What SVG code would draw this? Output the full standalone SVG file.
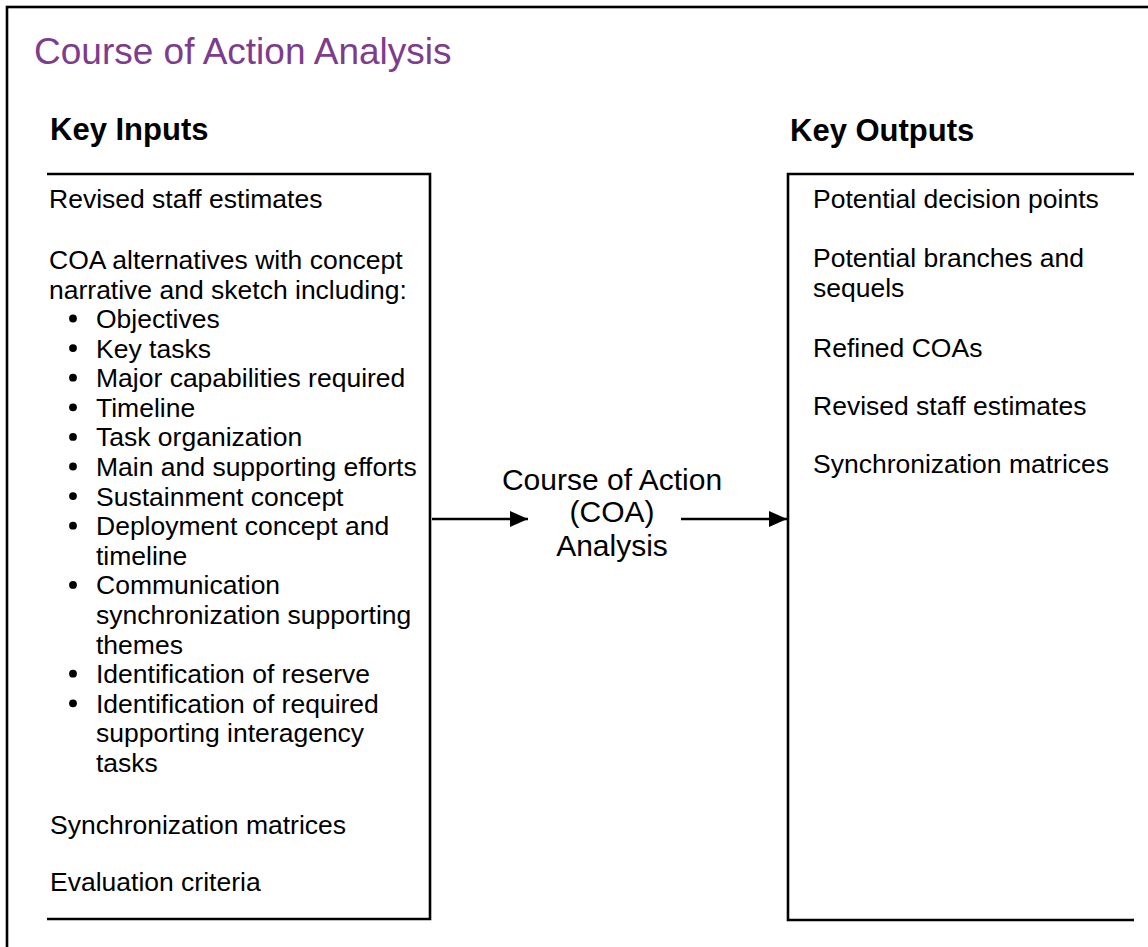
<svg xmlns="http://www.w3.org/2000/svg" width="1148" height="947" viewBox="0 0 1148 947">
  <style>
    text { font-family: "Liberation Sans", Arial, sans-serif; fill: #000; }
    .title { font-size: 37px; fill: #7D3C8C; }
    .head { font-size: 31px; font-weight: bold; }
    .body { font-size: 26.5px; }
    .center { font-size: 30px; text-anchor: middle; }
    .box { fill: none; stroke: #000; stroke-width: 2.6; }
    .conn { fill: none; stroke: #000; stroke-width: 2.4; }
  </style>
  <defs>
    <marker id="arrow" markerUnits="userSpaceOnUse" markerWidth="20" markerHeight="18" refX="18" refY="8" orient="auto">
      <path d="M0,0 L18,8 L0,16 Z" fill="#000"/>
    </marker>
  </defs>
  <rect width="1148" height="947" fill="#fff"/>
  <rect x="7" y="7" width="1170" height="970" fill="none" stroke="#000" stroke-width="2.6"/>
  <text class="title" x="34" y="64">Course of Action Analysis</text>

  <g id="inputs">
    <text class="head" x="50" y="140">Key Inputs</text>
    <path class="box" d="M47,174 H430 V919 H47"/>
    <text class="body" x="49" y="208">Revised staff estimates</text>
    <text class="body" x="49" y="269">COA alternatives with concept</text>
    <text class="body" x="49" y="298.5">narrative and sketch including:</text>
    <g fill="#000">
      <circle cx="73" cy="318.5" r="3.9"/>
      <circle cx="73" cy="348.1" r="3.9"/>
      <circle cx="73" cy="377.7" r="3.9"/>
      <circle cx="73" cy="407.3" r="3.9"/>
      <circle cx="73" cy="436.9" r="3.9"/>
      <circle cx="73" cy="466.5" r="3.9"/>
      <circle cx="73" cy="496.1" r="3.9"/>
      <circle cx="73" cy="525.7" r="3.9"/>
      <circle cx="73" cy="584.9" r="3.9"/>
      <circle cx="73" cy="673.7" r="3.9"/>
      <circle cx="73" cy="703.3" r="3.9"/>
    </g>
    <text class="body" x="96" y="328">Objectives</text>
    <text class="body" x="96" y="357.6">Key tasks</text>
    <text class="body" x="96" y="387.2">Major capabilities required</text>
    <text class="body" x="96" y="416.8">Timeline</text>
    <text class="body" x="96" y="446.4">Task organization</text>
    <text class="body" x="96" y="476">Main and supporting efforts</text>
    <text class="body" x="96" y="505.6">Sustainment concept</text>
    <text class="body" x="96" y="535.2">Deployment concept and</text>
    <text class="body" x="96" y="564.8">timeline</text>
    <text class="body" x="96" y="594.4">Communication</text>
    <text class="body" x="96" y="624">synchronization supporting</text>
    <text class="body" x="96" y="653.6">themes</text>
    <text class="body" x="96" y="683.2">Identification of reserve</text>
    <text class="body" x="96" y="712.8">Identification of required</text>
    <text class="body" x="96" y="742.4">supporting interagency</text>
    <text class="body" x="96" y="772">tasks</text>
    <text class="body" x="50" y="834">Synchronization matrices</text>
    <text class="body" x="50" y="891">Evaluation criteria</text>
  </g>

  <g id="process">
    <text class="center" x="612" y="490">Course of Action</text>
    <text class="center" x="612" y="522">(COA)</text>
    <text class="center" x="612" y="556">Analysis</text>
  </g>

  <g id="outputs">
    <text class="head" x="790" y="141">Key Outputs</text>
    <path class="box" d="M1134,174 H788 V920 H1134"/>
    <text class="body" x="813" y="208">Potential decision points</text>
    <text class="body" x="813" y="267">Potential branches and</text>
    <text class="body" x="813" y="297">sequels</text>
    <text class="body" x="813" y="357">Refined COAs</text>
    <text class="body" x="813" y="415">Revised staff estimates</text>
    <text class="body" x="813" y="473">Synchronization matrices</text>
  </g>

  <g id="connectors">
    <line class="conn" x1="432" y1="519" x2="528" y2="519" marker-end="url(#arrow)"/>
    <line class="conn" x1="681" y1="519" x2="787" y2="519" marker-end="url(#arrow)"/>
  </g>
</svg>
